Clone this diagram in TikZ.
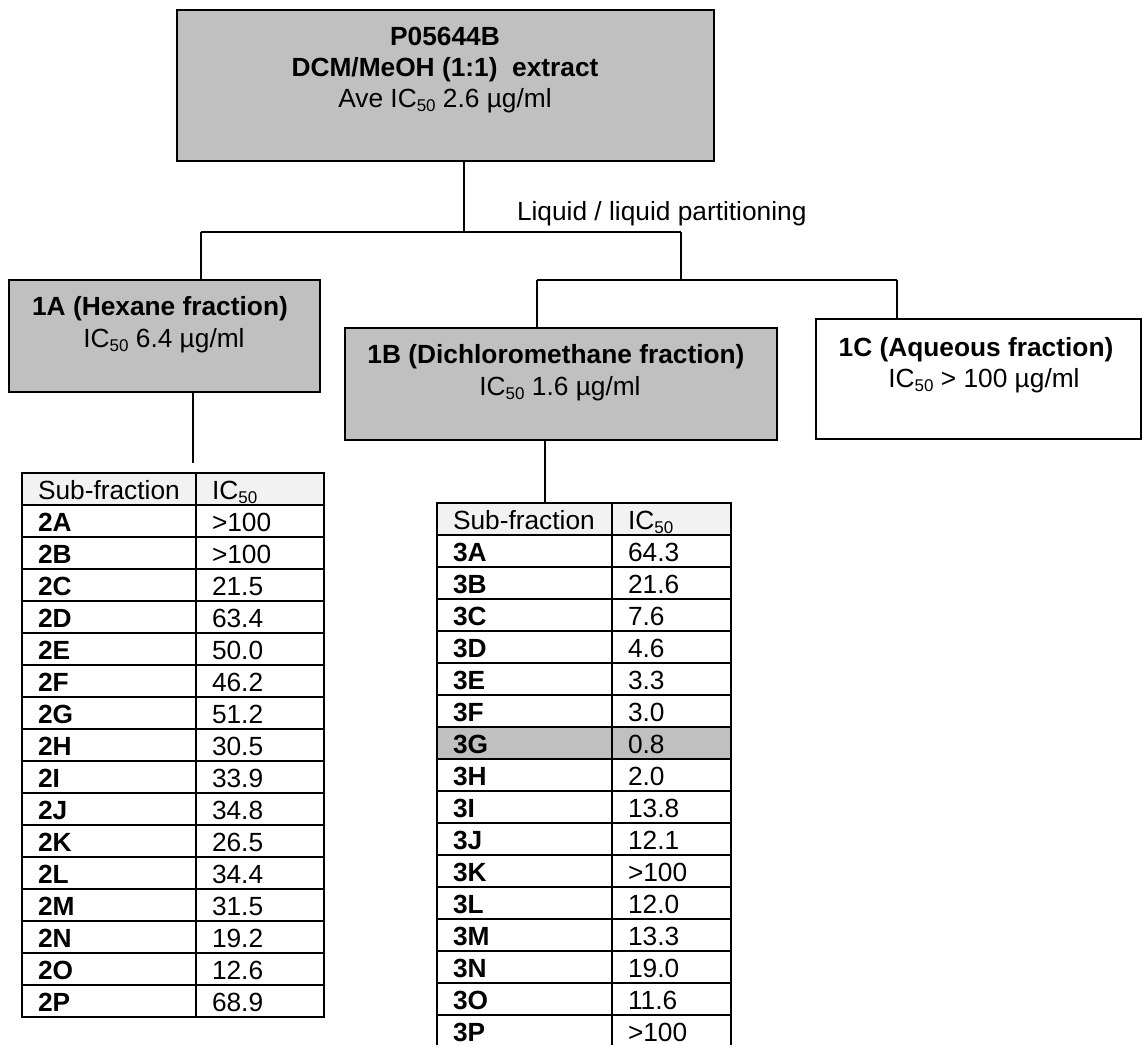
\documentclass[tikz,border=0pt]{standalone}
\usepackage{fontspec}
\setmainfont{Liberation Sans}
\newcommand{\sbs}[1]{\raisebox{-4pt}{\fontsize{17}{17}\selectfont #1}}
\definecolor{boxgray}{HTML}{C0C0C0}
\definecolor{headgray}{HTML}{F2F2F2}
\begin{document}
\begin{tikzpicture}[x=1pt,y=-1pt,line width=2pt,
  box/.style={draw,fill=boxgray,inner sep=0pt,outer sep=0pt,anchor=north west},
  wbox/.style={draw,fill=white,inner sep=0pt,outer sep=0pt,anchor=north west},
  tab/.style={draw,inner sep=0pt,outer sep=0pt,anchor=north west},
  txt/.style={inner sep=0pt,anchor=base,font=\fontsize{26.3}{31}\selectfont},
  btxt/.style={txt,font=\fontsize{26.3}{31}\selectfont\bfseries},
  ctxt/.style={inner sep=0pt,anchor=base west,font=\fontsize{26.3}{31}\selectfont},
  cbtxt/.style={ctxt,font=\fontsize{26.3}{31}\selectfont\bfseries}]
\useasboundingbox (0,0) rectangle (1143,1044);
\fill[white] (0,0) rectangle (1143,1044);

% boxes
\node[box,minimum width=537.5pt,minimum height=151pt] (top) at (176.5,10) {};
\node[box,minimum width=311.3pt,minimum height=112pt] (A) at (8.7,280) {};
\node[box,minimum width=432pt,minimum height=112pt] (B) at (345,328) {};
\node[wbox,minimum width=325pt,minimum height=120pt] (C) at (816,319) {};

% box texts
\node[btxt] (t1) at (445,45) {P05644B};
\node[btxt] (t2) at (445,76) {DCM/MeOH (1:1)\ \ extract};
\node[txt] (t3) at (445,107) {Ave IC\sbs{50} 2.6 µg/ml};
\node[btxt] (a1) at (160,315) {1A (Hexane fraction)};
\node[txt] (a2) at (164,347) {IC\sbs{50} 6.4 µg/ml};
\node[btxt] (b1) at (556,363) {1B (Dichloromethane fraction)};
\node[txt] (b2) at (560,395) {IC\sbs{50} 1.6 µg/ml};
\node[btxt] (c1) at (976,356) {1C (Aqueous fraction)};
\node[txt] (c2) at (984,387) {IC\sbs{50} > 100 µg/ml};
\node[ctxt] (liq) at (516,220) {Liquid / liquid partitioning};

% connectors
\coordinate (j1) at (464,232);
\coordinate (jL) at (200.5,232);
\coordinate (jR) at (681,232);
\coordinate (j2) at (681,280);
\coordinate (j2L) at (537,280);
\coordinate (j2R) at (897,280);
\coordinate (aend) at (193,463);
\coordinate (bx) at (545,0);
\draw (top.south -| j1) -- (j1);
\draw (jL) -- (jR);
\draw (jL) -- (A.north -| jL);
\draw (jR) -- (j2);
\draw (j2L) -- (j2R);
\draw (j2L) -- (B.north -| j2L);
\draw (j2R) -- (C.north -| j2R);
\draw (A.south -| aend) -- (aend);

% table 1
\fill[headgray] (22,473) rectangle (324,505);
\node[tab,minimum width=302pt,minimum height=544pt] (T1) at (22,473) {};
\draw (196,473) -- (196,1017);
\foreach \k in {1,...,16} {\draw (22,473+32*\k) -- (324,473+32*\k);}
\node[ctxt] (h1a) at (37,499) {Sub-fraction};
\node[ctxt] (h1b) at (211,499) {IC\sbs{50}};
\foreach \lab/\val [count=\i] in {2A/>100,2B/>100,2C/21.5,2D/63.4,2E/50.0,2F/46.2,2G/51.2,2H/30.5,2I/33.9,2J/34.8,2K/26.5,2L/34.4,2M/31.5,2N/19.2,2O/12.6,2P/68.9} {
  \node[cbtxt] (r1l\i) at (37,473+32*\i+26) {\lab};
  \node[ctxt] (r1v\i) at (211,473+32*\i+26) {\val};
}

% table 2
\fill[headgray] (437,503) rectangle (731,535);
\fill[boxgray] (437,727) rectangle (731,759);
\node[tab,minimum width=294pt,minimum height=544pt] (T2) at (437,503) {};
\draw (612,503) -- (612,1047);
\foreach \k in {1,...,16} {\draw (437,503+32*\k) -- (731,503+32*\k);}
\node[ctxt] (h2a) at (452,529) {Sub-fraction};
\node[ctxt] (h2b) at (627,529) {IC\sbs{50}};
\foreach \lab/\val [count=\i] in {3A/64.3,3B/21.6,3C/7.6,3D/4.6,3E/3.3,3F/3.0,3G/0.8,3H/2.0,3I/13.8,3J/12.1,3K/>100,3L/12.0,3M/13.3,3N/19.0,3O/11.6,3P/>100} {
  \node[cbtxt] (r2l\i) at (452,503+32*\i+26) {\lab};
  \node[ctxt] (r2v\i) at (627,503+32*\i+26) {\val};
}
\draw (B.south -| bx) -- (T2.north -| bx);
\end{tikzpicture}
\end{document}
